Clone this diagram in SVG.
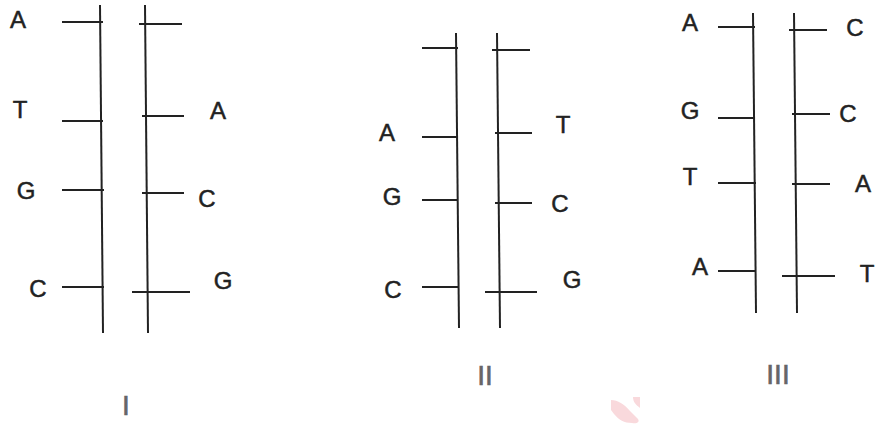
<svg xmlns="http://www.w3.org/2000/svg" width="875" height="426" viewBox="0 0 875 426">
<style>
.bb{stroke:#222;stroke-width:2;fill:none}
.r{stroke:#222;stroke-width:2}
.b{font-family:"Liberation Sans","Arial",sans-serif;font-size:24px;fill:#222;stroke:#222;stroke-width:0.5;text-anchor:middle}
.n{font-family:"Liberation Sans","Arial",sans-serif;font-size:28px;fill:#666;stroke:#666;stroke-width:0.6;text-anchor:middle}
</style>
<rect width="875" height="426" fill="#fff"/>
<g id="molecule-I">
<g id="I-left-strand">
<line class="bb" x1="100" y1="5" x2="103" y2="333"/>
<line class="r" x1="62" y1="22" x2="103" y2="22"/>
<line class="r" x1="62" y1="121" x2="103" y2="121"/>
<line class="r" x1="62" y1="190" x2="104" y2="190"/>
<line class="r" x1="62" y1="287" x2="104" y2="287"/>
<text class="b" x="18" y="28">A</text>
<text class="b" x="20" y="118">T</text>
<text class="b" x="26" y="199">G</text>
<text class="b" x="38" y="297">C</text>
</g>
<g id="I-right-strand">
<line class="bb" x1="145" y1="5" x2="148" y2="333"/>
<line class="r" x1="139" y1="24" x2="182" y2="24"/>
<line class="r" x1="142" y1="116" x2="184" y2="116"/>
<line class="r" x1="142" y1="193" x2="184" y2="193"/>
<line class="r" x1="132" y1="292" x2="190" y2="292"/>
<text class="b" x="218" y="119">A</text>
<text class="b" x="207" y="207">C</text>
<text class="b" x="223" y="289">G</text>
</g>
<text class="n" x="126" y="415">I</text>
</g>
<g id="molecule-II">
<g id="II-left-strand">
<line class="bb" x1="456" y1="33" x2="459" y2="328"/>
<line class="r" x1="422" y1="48" x2="458" y2="48"/>
<line class="r" x1="422" y1="137" x2="458" y2="137"/>
<line class="r" x1="422" y1="200" x2="458" y2="200"/>
<line class="r" x1="422" y1="287" x2="459" y2="287"/>
<text class="b" x="387" y="141">A</text>
<text class="b" x="392" y="205">G</text>
<text class="b" x="393" y="298">C</text>
</g>
<g id="II-right-strand">
<line class="bb" x1="497" y1="33" x2="500" y2="328"/>
<line class="r" x1="492" y1="50" x2="530" y2="50"/>
<line class="r" x1="495" y1="133" x2="532" y2="133"/>
<line class="r" x1="495" y1="203" x2="532" y2="203"/>
<line class="r" x1="485" y1="292" x2="537" y2="292"/>
<text class="b" x="563" y="133">T</text>
<text class="b" x="560" y="212">C</text>
<text class="b" x="572" y="288">G</text>
</g>
<text class="n" x="485" y="385">II</text>
</g>
<g id="molecule-III">
<g id="III-left-strand">
<line class="bb" x1="753" y1="13" x2="756" y2="313"/>
<line class="r" x1="718" y1="27" x2="755" y2="27"/>
<line class="r" x1="718" y1="118" x2="755" y2="118"/>
<line class="r" x1="718" y1="183" x2="756" y2="183"/>
<line class="r" x1="718" y1="271" x2="756" y2="271"/>
<text class="b" x="690" y="31">A</text>
<text class="b" x="690" y="119">G</text>
<text class="b" x="690" y="185">T</text>
<text class="b" x="700" y="275">A</text>
</g>
<g id="III-right-strand">
<line class="bb" x1="794" y1="13" x2="797" y2="313"/>
<line class="r" x1="789" y1="30" x2="827" y2="30"/>
<line class="r" x1="792" y1="114" x2="830" y2="114"/>
<line class="r" x1="792" y1="184" x2="830" y2="184"/>
<line class="r" x1="782" y1="276" x2="835" y2="276"/>
<text class="b" x="855" y="36">C</text>
<text class="b" x="848" y="122">C</text>
<text class="b" x="863" y="192">A</text>
<text class="b" x="867" y="282">T</text>
</g>
<text class="n" x="778" y="384">III</text>
</g>
<g id="watermark" fill="#f9d9dc">
<path d="M611,400 C618,400 624,404 630,411 L638,419 C640,422 637,424 632,423 C624,423 619,420 614,414 L611,410 Z"/>
<path d="M633,397 L640,397 L640,408 C636,405 633,402 633,397 Z"/>
</g>
</svg>
